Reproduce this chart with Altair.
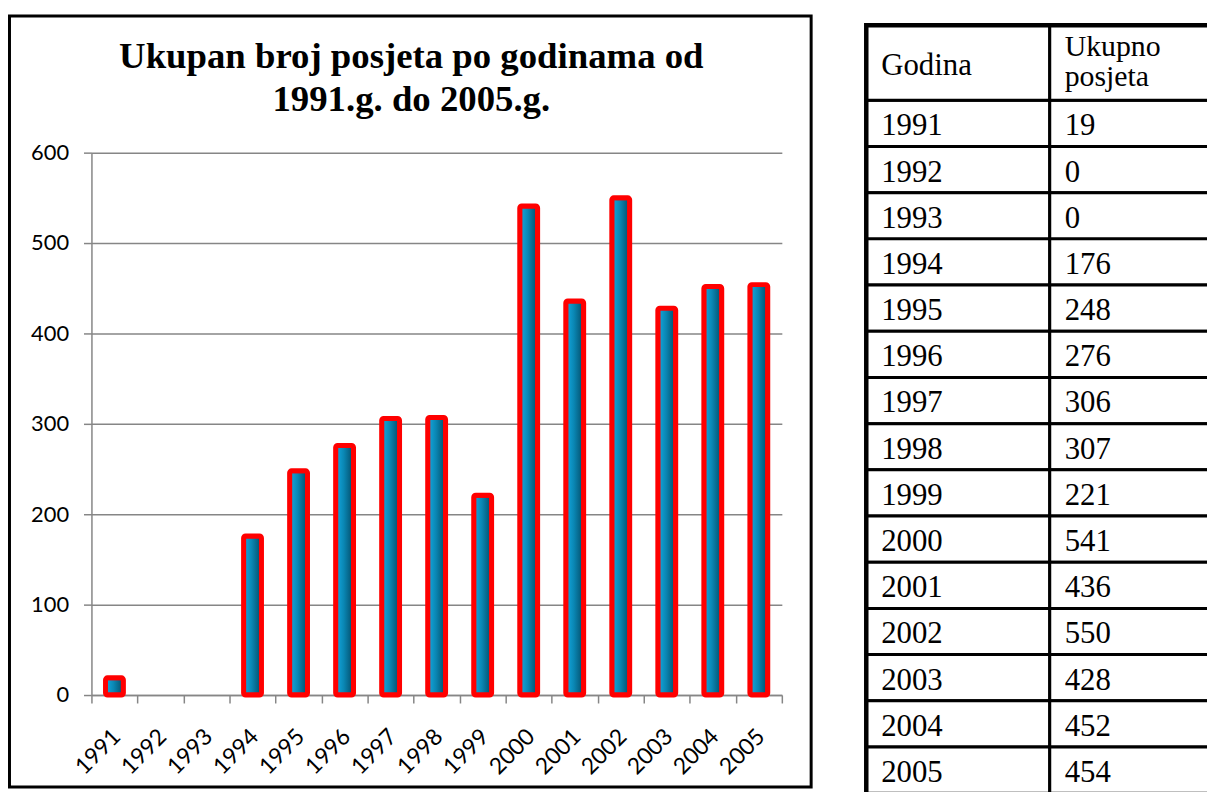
import altair as alt
import pandas as pd

# ---------------- data ----------------
years = [1991, 1992, 1993, 1994, 1995, 1996, 1997, 1998, 1999, 2000,
         2001, 2002, 2003, 2004, 2005]
visits = [19, 0, 0, 176, 248, 276, 306, 307, 221, 541, 436, 550, 428, 452, 454]
y_ticks = [0, 100, 200, 300, 400, 500, 600]
columns = ["Godina", "Ukupno posjeta"]
header_labels = ["Godina", "Ukupno\nposjeta"]
title_text = "Ukupan broj posjeta po godinama od\n1991.g. do 2005.g."

year_labels = [str(y) for y in years]
bars_df = pd.DataFrame({"godina": year_labels, "posjete": visits})
cells_df = pd.DataFrame({
    "godina": year_labels * 2,
    "kolona": [columns[0]] * len(years) + [columns[1]] * len(years),
    "tekst": year_labels + [str(v) for v in visits],
})
header_df = pd.DataFrame({"kolona": columns, "tekst": header_labels})
title_df = pd.DataFrame({"t": [title_text]})
one_df = pd.DataFrame({"k": [0]})

# ---------------- layout ----------------
W, H = 695, 546
PAD_L, PAD_T = 84, 143
PAD_R = 1207 - PAD_L - W
PAD_B = 784 - PAD_T - H
GREY = "#868686"
COL_W = 184.7
TXT_DX = 15 - COL_W / 2

gradient = alt.LinearGradient(
    gradient="linear",
    stops=[alt.GradientStop(color="#14aae2", offset=0),
           alt.GradientStop(color="#0a87b4", offset=0.45),
           alt.GradientStop(color="#034a66", offset=1)],
    x1=0, x2=1, y1=0, y2=0,
)

x_bar = alt.X(
    "godina:N",
    scale=alt.Scale(domain=year_labels, paddingInner=0, paddingOuter=0),
    axis=alt.Axis(title=None, labelAngle=-45, labelAlign="right",
                  labelBaseline="middle", labelPadding=30, labelFont="Lato",
                  labelFontSize=23, labelColor="black", labelOverlap=False,
                  labelOffset=2,
                  tickBand="extent", tickSize=8, tickColor=GREY, tickWidth=1.5,
                  domainColor=GREY, domainWidth=1.5, grid=False),
)
y_bar = alt.Y(
    "posjete:Q",
    scale=alt.Scale(domain=[0, 600], nice=False),
    axis=alt.Axis(title=None, values=y_ticks, labelFont="Lato",
                  labelFontSize=22, labelColor="black", labelPadding=15,
                  tickSize=8, tickColor=GREY, tickWidth=1.5,
                  domainColor=GREY, domainWidth=1.5,
                  gridColor=GREY, gridWidth=1.5),
)

border = alt.Chart(one_df).mark_rect(
    fillOpacity=0, stroke="black", strokeWidth=3
).encode(x=alt.value(-82.5), x2=alt.value(724.5),
         y=alt.value(-137.5), y2=alt.value(638.5))

title = alt.Chart(title_df).mark_text(
    font="Liberation Serif", fontWeight="bold", fontSize=37, lineHeight=43,
    lineBreak="\n", align="center", baseline="alphabetic", color="black"
).encode(x=alt.value(322), y=alt.value(-85), text="t:N")

bars = alt.Chart(bars_df).transform_filter("datum.posjete > 0").mark_bar(
    size=18, cornerRadius=2, fill=gradient, stroke="#ff0000", strokeWidth=5
).encode(x=x_bar, y=y_bar)

col_scale = alt.Scale(domain=columns, range=[780, 780 + 2 * COL_W],
                      paddingInner=0, paddingOuter=0)
row_scale = alt.Scale(domain=year_labels, range=[-52.7, 644.8],
                      paddingInner=0, paddingOuter=0)

cells = alt.Chart(cells_df).mark_rect(
    fill="white", stroke="black", strokeWidth=3
).encode(x=alt.X("kolona:N", scale=col_scale, axis=None),
         y=alt.Y("godina:N", scale=row_scale, axis=None))

header_cells = alt.Chart(header_df).mark_rect(
    fill="white", stroke="black", strokeWidth=3
).encode(x=alt.X("kolona:N", scale=col_scale, axis=None),
         y=alt.value(-128.2), y2=alt.value(-52.7))

frame = alt.Chart(one_df).mark_rect(
    fillOpacity=0, stroke="black", strokeWidth=4.5
).encode(x=alt.value(780), x2=alt.value(1170),
         y=alt.value(-128.2), y2=alt.value(670))

cell_text = alt.Chart(cells_df).mark_text(
    font="Liberation Serif", fontSize=31, align="left",
    baseline="alphabetic", dx=TXT_DX, dy=12, color="black"
).encode(x=alt.X("kolona:N", scale=col_scale, axis=None),
         y=alt.Y("godina:N", scale=row_scale, axis=None),
         text="tekst:N")

header_text1 = alt.Chart(header_df).transform_filter(
    alt.datum.kolona == columns[0]
).mark_text(
    font="Liberation Serif", fontSize=31, align="left",
    baseline="alphabetic", dx=TXT_DX, color="black"
).encode(x=alt.X("kolona:N", scale=col_scale, axis=None),
         y=alt.value(-77.7), text="tekst:N")

header_text2 = alt.Chart(header_df).transform_filter(
    alt.datum.kolona == columns[1]
).mark_text(
    font="Liberation Serif", fontSize=30, align="left", lineBreak="\n",
    lineHeight=30, baseline="alphabetic", dx=TXT_DX, color="black"
).encode(x=alt.X("kolona:N", scale=col_scale, axis=None),
         y=alt.value(-97), text="tekst:N")

chart = alt.layer(
    border, title, bars, cells, header_cells, frame,
    cell_text, header_text1, header_text2
).resolve_scale(
    x="independent", y="independent"
).properties(
    width=W, height=H,
    autosize=alt.AutoSizeParams(type="none"),
    padding={"left": PAD_L, "top": PAD_T, "right": PAD_R, "bottom": PAD_B},
    background="white",
).configure_view(strokeWidth=0)

chart.save("out.html", embed_options={"renderer": "svg", "actions": False})
